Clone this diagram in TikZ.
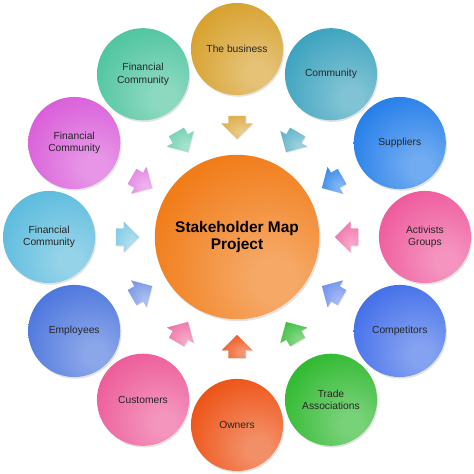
\documentclass[tikz,border=0pt]{standalone}
\usepackage{fontspec}
\setmainfont{Liberation Sans}
\usepackage{xcolor}
\usepackage{tikz}
\usetikzlibrary{shapes.arrows,shadows}

% circle colours
\definecolor{bizcol}{HTML}{D59C22}
\definecolor{comcol}{HTML}{329EBB}
\definecolor{supcol}{HTML}{1A78E8}
\definecolor{actcol}{HTML}{EE5298}
\definecolor{cmpcol}{HTML}{3A68E8}
\definecolor{tracol}{HTML}{26B626}
\definecolor{owncol}{HTML}{EC4A0A}
\definecolor{cuscol}{HTML}{EC5494}
\definecolor{empcol}{HTML}{4470DC}
\definecolor{finAcol}{HTML}{54B8DC}
\definecolor{finBcol}{HTML}{D856D8}
\definecolor{finCcol}{HTML}{46C29A}
\definecolor{projcol}{HTML}{F0740A}

\colorlet{bubblein}{white}
\colorlet{bubbleout}{gray}
\pgfdeclareradialshading[bubblein,bubbleout]{bubble}{\pgfpoint{12bp}{-14bp}}{%
  color(0bp)=(bubblein); color(6bp)=(bubblein);
  color(36bp)=(bubbleout!85!bubblein); color(60bp)=(bubbleout);
  color(100bp)=(bubbleout)}

\begin{document}
\begin{tikzpicture}
			\tikzset{bubble color/.code={\colorlet{bubbleout}{#1}\colorlet{bubblein}{#1!62!white}\tikzset{shading=bubble}}}
			\tikzstyle{stakeholder}=[circle, inner sep=0pt, minimum size=3.25cm, align=center, text=black!85,
				font=\fontsize{10.3}{12.7}\selectfont,
				drop shadow={opacity=0.22, shadow xshift=0.04cm, shadow yshift=-0.06cm}]
			\tikzstyle{hub}=[circle, inner sep=0pt, minimum size=5.8cm, align=center,
				font=\fontsize{15.5}{18}\selectfont\bfseries,
				drop shadow={opacity=0.22, shadow xshift=0.05cm, shadow yshift=-0.07cm}]
			\tikzstyle{pointer}=[single arrow, inner xsep=0pt, inner ysep=0.3cm, minimum height=0.82cm,
				single arrow head extend=0.24cm,
				drop shadow={opacity=0.2, shadow xshift=0.03cm, shadow yshift=-0.03cm}]
			
			\useasboundingbox (-8.36,-8.36) rectangle (8.36,8.36);
			
			\node[hub, bubble color=projcol](project) at (0,0) {Stakeholder Map\\Project};
			
			\node[stakeholder, bubble color=bizcol](business) at (90:6.63) {The business};
			\node[stakeholder, bubble color=comcol](community) at (60:6.63) {Community};
			\node[stakeholder, bubble color=supcol](suppliers) at (30:6.63) {Suppliers};
			\node[stakeholder, bubble color=actcol](activists) at (0:6.63) {Activists\\Groups};
			\node[stakeholder, bubble color=cmpcol](competitors) at (-30:6.63) {Competitors};
			\node[stakeholder, bubble color=tracol](trade) at (-60:6.63) {Trade\\Associations};
			\node[stakeholder, bubble color=owncol](owners) at (-90:6.63) {Owners};
			\node[stakeholder, bubble color=cuscol](customers) at (-120:6.63) {Customers};
			\node[stakeholder, bubble color=empcol](employees) at (-150:6.63) {Employees};
			\node[stakeholder, bubble color=finAcol](financeA) at (180:6.63) {Financial\\Community};
			\node[stakeholder, bubble color=finBcol](financeB) at (150:6.63) {Financial\\Community};
			\node[stakeholder, bubble color=finCcol](financeC) at (120:6.63) {Financial\\Community};
			
			\node[pointer, rotate=270, bubble color=bizcol!85!white](businessarrow) at (90:4.02) {};
			\node[pointer, rotate=240, bubble color=comcol!80!white](communityarrow) at (60:4.02) {};
			\node[pointer, rotate=210, bubble color=supcol!90!white](suppliersarrow) at (30:4.02) {};
			\node[pointer, rotate=180, bubble color=actcol!85!white](activistsarrow) at (0:4.02) {};
			\node[pointer, rotate=150, bubble color=cmpcol!75!white](competitorsarrow) at (-30:4.02) {};
			\node[pointer, rotate=120, bubble color=tracol!90!white](tradearrow) at (-60:4.02) {};
			\node[pointer, rotate=90, bubble color=owncol!95!white](ownersarrow) at (-90:4.02) {};
			\node[pointer, rotate=60, bubble color=cuscol!85!white](customersarrow) at (-120:4.02) {};
			\node[pointer, rotate=30, bubble color=empcol!75!white](employeesarrow) at (-150:4.02) {};
			\node[pointer, rotate=0, bubble color=finAcol!75!white](financeAarrow) at (180:4.02) {};
			\node[pointer, rotate=-30, bubble color=finBcol!75!white](financeBarrow) at (150:4.02) {};
			\node[pointer, rotate=-60, bubble color=finCcol!80!white](financeCarrow) at (120:4.02) {};
			
			\end{tikzpicture}
\end{document}
